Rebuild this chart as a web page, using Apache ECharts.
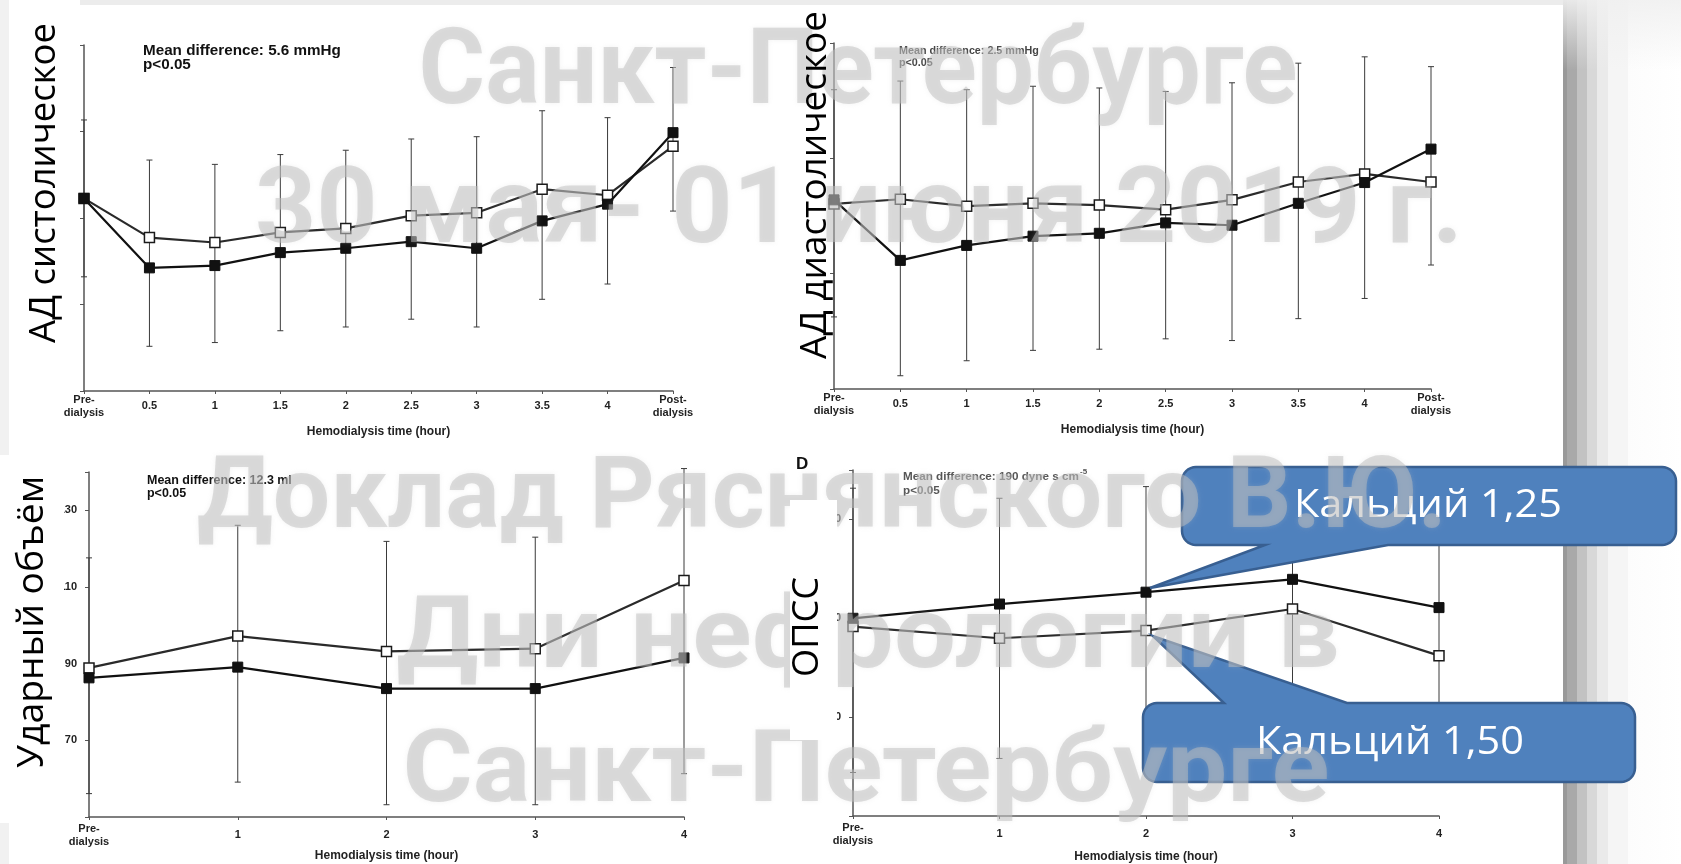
<!DOCTYPE html>
<html>
<head>
<meta charset="utf-8">
<script src="https://cdn.jsdelivr.net/npm/echarts@6/dist/echarts.min.js"></script>
<style>
  html, body { margin: 0; padding: 0; background: #ffffff; }
  #chart { width: 1681px; height: 864px; }
</style>
</head>
<body>
<div id="chart"></div>
<script>
// ---- time points ----
const hoursFull = ['Pre-\ndialysis', '0.5', '1', '1.5', '2', '2.5', '3', '3.5', '4', 'Post-\ndialysis'];
const hoursShort = ['Pre-\ndialysis', '1', '2', '3', '4'];

// ---- systolic BP, mmHg (mean and SD) ----
const sbpCa150 = [146.8, 133.2, 131.5, 135.0, 136.4, 140.8, 141.8, 150.0, 147.9, 164.9];
const sbpCa125 = [146.8, 122.7, 123.5, 128.0, 129.5, 131.8, 129.5, 139.0, 144.8, 169.6];
const sbpSdCa150 = [27.2, 26.9, 27.1, 27.0, 27.1, 26.6, 26.4, 27.2, 26.9, 27.3];
const sbpSdCa125 = [27.2, 27.2, 26.7, 27.1, 27.3, 26.9, 27.3, 27.2, 27.7, 27.2];

// ---- diastolic BP, mmHg ----
const dbpCa150 = [82.1, 82.9, 81.7, 82.2, 81.9, 81.1, 82.8, 85.9, 87.3, 85.9];
const dbpCa125 = [82.8, 72.3, 74.9, 76.5, 77.0, 78.8, 78.4, 82.2, 85.8, 91.6];
const dbpSdCa150 = [19.8, 20.5, 20.2, 20.3, 20.3, 20.5, 20.3, 20.6, 20.3, 20.0];
const dbpSdCa125 = [20.3, 20.0, 20.0, 19.8, 20.1, 20.1, 20.0, 20.0, 20.1, 20.1];

// ---- stroke volume, ml ----
const svCa150 = [88.9, 97.2, 93.2, 93.9, 111.7];
const svCa125 = [86.3, 89.1, 83.5, 83.5, 91.5];
const svSdCa150 = [28.7, 28.9, 28.7, 29.1, 29.2];
const svSdCa125 = [30.2, 30.0, 30.3, 30.3, 30.2];
const svTicks = [70, 90, 110, 130];

// ---- systemic vascular resistance, dyne*s*cm-5 ----
const svrCa150 = [1958, 1899, 1938, 2047, 1811];
const svrCa125 = [2000, 2072, 2132, 2197, 2054];
const svrSdCa150 = [700, 708, 728, 700, 720];
const svrSdCa125 = [780, 781, 785, 780, 790];
const svrTicks = [1500, 2000, 2500];

// ---- text helpers ----
const measureCtx = document.createElement('canvas').getContext('2d');
function textWidth(str, weight, size, family) {
  measureCtx.font = weight + ' ' + size + 'px ' + family;
  return measureCtx.measureText(str).width;
}
const AXIS_FONT = '"Liberation Sans", Arial, sans-serif';
const TITLE_FONT = '"Open Sans", "Noto Sans", sans-serif';

// ---- grids ----
const grids = [
  { left: 84, top: 45, width: 589, height: 346 },
  { left: 834, top: 43, width: 597, height: 346 },
  { left: 89, top: 472, width: 595, height: 345 },
  { left: 853, top: 470, width: 586, height: 346 }
];

function xAxisFor(idx, cats, labelMargin, nameGap) {
  return {
    gridIndex: idx, type: 'category', data: cats, boundaryGap: false,
    axisLine: { lineStyle: { color: '#555', width: 1.5 } },
    axisTick: { show: true, length: 3, lineStyle: { color: '#555' } },
    axisLabel: {
      interval: 0, fontFamily: AXIS_FONT, fontWeight: 'bold', fontSize: 11,
      color: '#222', lineHeight: 13, verticalAlign: 'middle', margin: labelMargin
    },
    name: 'Hemodialysis time (hour)', nameLocation: 'middle', nameGap: nameGap,
    nameTextStyle: { fontFamily: AXIS_FONT, fontWeight: 'bold', fontSize: 12, color: '#222' }
  };
}

function yAxisFor(idx, min, max, interval, shownTicks) {
  return {
    gridIndex: idx, type: 'value', min: min, max: max, interval: interval,
    axisLine: { show: true, lineStyle: { color: '#555', width: 1.5 } },
    axisTick: { show: true, length: 4, lineStyle: { color: '#555' } },
    splitLine: { show: false },
    axisLabel: {
      show: !!shownTicks, margin: 12, fontFamily: AXIS_FONT, fontWeight: 'bold',
      fontSize: 11, color: '#222',
      formatter: v => (shownTicks && shownTicks.indexOf(v) >= 0) ? String(v) : ''
    }
  };
}

// error bar spans: up from the Ca 1.50 mean, down from the Ca 1.25 mean
function errorBars(idx, hi, hiSd, lo, loSd) {
  const data = hi.map((v, i) => [i, v + hiSd[i], lo[i] - loSd[i]]);
  return {
    type: 'custom', xAxisIndex: idx, yAxisIndex: idx, data: data, clip: false, z: 1,
    encode: { x: 0, y: [1, 2] }, silent: true,
    renderItem: function (params, api) {
      const top = api.coord([api.value(0), api.value(1)]);
      const bot = api.coord([api.value(0), api.value(2)]);
      const cw = 3;
      const st = { stroke: '#3a3a3a', lineWidth: 1 };
      return {
        type: 'group', children: [
          { type: 'line', shape: { x1: top[0], y1: top[1], x2: bot[0], y2: bot[1] }, style: st },
          { type: 'line', shape: { x1: top[0] - cw, y1: top[1], x2: top[0] + cw, y2: top[1] }, style: st },
          { type: 'line', shape: { x1: bot[0] - cw, y1: bot[1], x2: bot[0] + cw, y2: bot[1] }, style: st }
        ]
      };
    }
  };
}

function meanLine(idx, data, filled) {
  return {
    type: 'line', xAxisIndex: idx, yAxisIndex: idx, data: data, silent: true,
    symbol: 'rect', symbolSize: 10, z: filled ? 4 : 3,
    lineStyle: { color: filled ? '#111' : '#2a2a2a', width: 2.2 },
    itemStyle: filled
      ? { color: '#111', borderColor: '#111', borderWidth: 1 }
      : { color: '#ffffff', borderColor: '#1a1a1a', borderWidth: 1.5 }
  };
}

const series = [
  errorBars(0, sbpCa150, sbpSdCa150, sbpCa125, sbpSdCa125),
  meanLine(0, sbpCa150, false), meanLine(0, sbpCa125, true),
  errorBars(1, dbpCa150, dbpSdCa150, dbpCa125, dbpSdCa125),
  meanLine(1, dbpCa150, false), meanLine(1, dbpCa125, true),
  errorBars(2, svCa150, svSdCa150, svCa125, svSdCa125),
  meanLine(2, svCa150, false), meanLine(2, svCa125, true),
  errorBars(3, svrCa150, svrSdCa150, svrCa125, svrSdCa125),
  meanLine(3, svrCa150, false), meanLine(3, svrCa125, true)
];

// ---- graphic layer ----
const graphics = [];

// slide frame: top band, left edge, right shadow strip
graphics.push({ type: 'rect', z: 0, silent: true, shape: { x: 80, y: 0, width: 1490, height: 5 }, style: { fill: '#ececec' } });
graphics.push({ type: 'rect', z: 0, silent: true, shape: { x: 0, y: 0, width: 9, height: 455 }, style: { fill: '#f1f1f1' } });
graphics.push({ type: 'rect', z: 0, silent: true, shape: { x: 0, y: 823, width: 9, height: 41 }, style: { fill: '#f1f1f1' } });
graphics.push({
  type: 'rect', z: 0, silent: true, shape: { x: 1563, y: 0, width: 118, height: 864 },
  style: {
    fill: new echarts.graphic.LinearGradient(0, 0, 1, 0, [
      { offset: 0, color: '#999999' }, { offset: 0.03, color: '#999999' },
      { offset: 0.03, color: '#a9a9a9' }, { offset: 0.12, color: '#a9a9a9' },
      { offset: 0.12, color: '#c2c2c2' }, { offset: 0.2, color: '#c2c2c2' },
      { offset: 0.2, color: '#d8d8d8' }, { offset: 0.29, color: '#d8d8d8' },
      { offset: 0.29, color: '#eaeaea' }, { offset: 0.38, color: '#eaeaea' },
      { offset: 0.38, color: '#f5f5f5' }, { offset: 0.55, color: '#f5f5f5' },
      { offset: 0.55, color: '#fcfcfc' }, { offset: 1, color: '#ffffff' }
    ])
  }
});
graphics.push({
  type: 'rect', z: 1, silent: true, shape: { x: 1563, y: 0, width: 118, height: 70 },
  style: {
    fill: new echarts.graphic.LinearGradient(0, 0, 0, 1, [
      { offset: 0, color: 'rgba(240,240,240,0.9)' }, { offset: 1, color: 'rgba(240,240,240,0)' }
    ])
  }
});

// left margins of the pasted figure hide most of the y tick labels
graphics.push({ type: 'rect', z: 50, silent: true, shape: { x: 0, y: 462, width: 64, height: 340 }, style: { fill: '#ffffff' } });
graphics.push({ type: 'rect', z: 50, silent: true, shape: { x: 790, y: 500, width: 47, height: 240 }, style: { fill: '#ffffff' } });

// panel notes, sized to their printed width
function note(x, y, text, color, width, size) {
  const fs = width ? 13 * width / textWidth(text, 'bold', 13, AXIS_FONT) : size;
  graphics.push({
    type: 'text', x: x, y: y, z: 5, silent: true,
    style: { text: text, fontFamily: AXIS_FONT, fontWeight: 'bold', fontSize: fs, fill: color,
      align: 'left', verticalAlign: 'middle', textAlign: 'left', textVerticalAlign: 'middle' }
  });
  return fs;
}
const fsA = note(143, 51, 'Mean difference: 5.6 mmHg', '#111', 198);
note(143, 65, 'p<0.05', '#111', null, fsA);
const fsB = note(899, 51, 'Mean difference: 2.5 mmHg', '#444', 140);
note(899, 63, 'p<0.05', '#444', null, fsB);
const fsC = note(147, 481, 'Mean difference: 12.3 ml', '#111', 145);
note(147, 494, 'p<0.05', '#111', null, fsC);
const fsD = note(903, 477, 'Mean difference: 190 dyne s cm', '#555', 176);
note(903, 491, 'p<0.05', '#555', null, fsD);
note(903 + 176 + 1, 472, '-5', '#555', null, 8);
note(796, 464, 'D', '#111', null, 17);

// rotated axis titles
function vTitle(text, cx, cy, len) {
  const base = 40;
  const fs = base * len / textWidth(text, 'normal', base, TITLE_FONT);
  graphics.push({
    type: 'text', x: cx, y: cy, rotation: Math.PI / 2, z: 60, silent: true,
    style: { text: text, fontFamily: TITLE_FONT, fontSize: fs, fill: '#000',
      align: 'center', verticalAlign: 'middle', textAlign: 'center', textVerticalAlign: 'middle' }
  });
}
vTitle('АД систолическое', 45, 183, 320);
vTitle('АД диастолическое', 815, 185, 348);
vTitle('Ударный объём', 32, 622, 292);
vTitle('ОПСС', 808, 627, 100);

// callouts: rounded box with a pointer wedge, traced as a polygon
function arcPts(cx, cy, r, a0, a1) {
  const pts = [];
  for (let k = 0; k <= 8; k++) {
    const a = a0 + (a1 - a0) * k / 8;
    pts.push([cx + r * Math.cos(a), cy + r * Math.sin(a)]);
  }
  return pts;
}
function calloutPoints(x1, y1, x2, y2, r, bx1, bx2, tx, ty, onTop) {
  let pts = [];
  pts = pts.concat(arcPts(x1 + r, y1 + r, r, Math.PI, Math.PI * 1.5));
  if (onTop) pts.push([bx1, y1], [tx, ty], [bx2, y1]);
  pts = pts.concat(arcPts(x2 - r, y1 + r, r, Math.PI * 1.5, Math.PI * 2));
  pts = pts.concat(arcPts(x2 - r, y2 - r, r, 0, Math.PI * 0.5));
  if (!onTop) pts.push([bx2, y2], [tx, ty], [bx1, y2]);
  pts = pts.concat(arcPts(x1 + r, y2 - r, r, Math.PI * 0.5, Math.PI));
  return pts;
}
function callout(points, label, cx, cy, w) {
  graphics.push({
    type: 'polygon', z: 20, silent: true, shape: { points: points },
    style: { fill: '#4f81bd', stroke: '#385f91', lineWidth: 2.5 }
  });
  const fs = 38;
  const sx = w / textWidth(label, 'normal', fs, TITLE_FONT);
  graphics.push({
    type: 'text', x: cx, y: cy, z: 21, silent: true, scaleX: sx,
    style: { text: label, fontFamily: TITLE_FONT, fontSize: fs, fill: '#ffffff',
      align: 'center', verticalAlign: 'middle', textAlign: 'center', textVerticalAlign: 'middle' }
  });
}
callout(calloutPoints(1182, 467, 1676, 545, 14, 1265, 1388, 1150, 588, false), 'Кальций 1,25', 1428, 506, 268);
callout(calloutPoints(1143, 703, 1635, 782, 14, 1224, 1347, 1153, 636, true), 'Кальций 1,50', 1390, 743, 268);

// event watermark
const wmFont = 'Roboto, "Open Sans", sans-serif';
[
  { t: 'Санкт-Петербурге', cx: 858, cy: 76, w: 879, fs: 106 },
  { t: '30 мая- 01 июня 2019 г.', cx: 859, cy: 215, w: 1208, fs: 106 },
  { t: 'Доклад Ряснянского В.Ю.', cx: 822, cy: 502, w: 1250, fs: 100 },
  { t: 'Дни нефрологии в', cx: 868, cy: 642, w: 943, fs: 100 },
  { t: 'Санкт-Петербурге', cx: 866, cy: 776, w: 927, fs: 100 }
].forEach(l => {
  const sx = l.w / textWidth(l.t, 'bold', l.fs, wmFont);
  graphics.push({
    type: 'text', x: l.cx, y: l.cy, z: 40, silent: true, scaleX: sx,
    style: { text: l.t, fontFamily: wmFont, fontWeight: 'bold', fontSize: l.fs,
      fill: 'rgba(190,190,190,0.5)', align: 'center', verticalAlign: 'middle',
      textAlign: 'center', textVerticalAlign: 'middle',
      textShadowColor: 'rgba(200,200,200,0.45)', textShadowBlur: 5 }
  });
});

const chart = echarts.init(document.getElementById('chart'), null, { renderer: 'canvas' });
chart.setOption({
  animation: false,
  backgroundColor: '#ffffff',
  grid: grids,
  xAxis: [
    xAxisFor(0, hoursFull, 15, 35),
    xAxisFor(1, hoursFull, 15, 35),
    xAxisFor(2, hoursShort, 18, 33),
    xAxisFor(3, hoursShort, 18, 35)
  ],
  yAxis: [
    yAxisFor(0, 80, 200, 30, null),
    yAxisFor(1, 50, 110, 20, null),
    yAxisFor(2, 50, 140, 20, svTicks),
    yAxisFor(3, 1000, 2750, 500, svrTicks)
  ],
  series: series,
  graphic: { elements: graphics }
});
</script>
</body>
</html>
